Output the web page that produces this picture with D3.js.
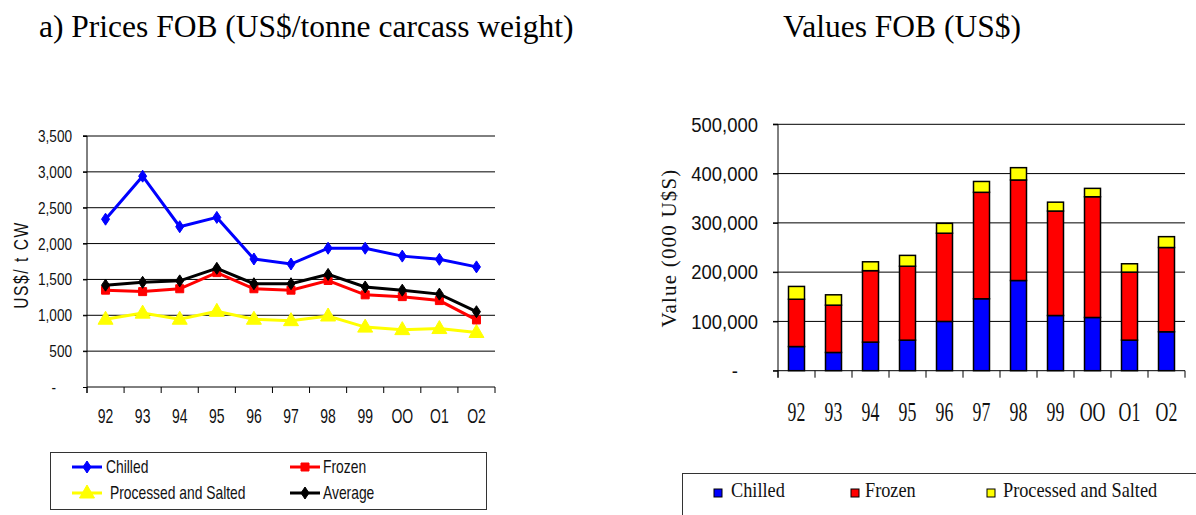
<!DOCTYPE html>
<html>
<head>
<meta charset="utf-8">
<script src="https://cdn.jsdelivr.net/npm/d3@7"></script>
<style>
  body { margin: 0; background: #fff; }
  svg { display: block; }
  .sans { font-family: 'Liberation Sans', Arial, sans-serif; }
  .serif { font-family: 'Liberation Serif', 'Times New Roman', serif; }
</style>
</head>
<body>
<svg id="main" width="1196" height="515"></svg>
<script>
// categories (years as printed on the original, with letter O)
const years = ['92', '93', '94', '95', '96', '97', '98', '99', 'OO', 'O1', 'O2'];

// a) prices FOB, US$/t carcass weight
const chilledPrice   = [2340, 2940, 2235, 2365, 1785, 1715, 1935, 1935, 1825, 1780, 1675];
const frozenPrice    = [1350, 1330, 1370, 1595, 1370, 1350, 1485, 1285, 1260, 1205, 935];
const processedPrice = [945, 1030, 945, 1055, 945, 925, 990, 835, 800, 815, 760];
const averagePrice   = [1420, 1460, 1480, 1655, 1440, 1440, 1570, 1395, 1350, 1295, 1050];
const priceTicks = [0, 500, 1000, 1500, 2000, 2500, 3000, 3500];

// values FOB, 000 US$
const chilledValue   = [49000, 37000, 58000, 62000, 100000, 146000, 183000, 112000, 108000, 62000, 79000];
const frozenValue    = [96000, 96000, 145000, 150000, 179000, 216000, 204000, 212000, 245000, 138000, 171000];
const processedValue = [26000, 21000, 18000, 22000, 20000, 22000, 25000, 18000, 17000, 17000, 22000];
const valueTicks = [0, 100000, 200000, 300000, 400000, 500000];

const svg = d3.select('svg#main');
const fmt = d3.format(',');

// titles
svg.append('text')
  .attr('class', 'serif')
  .attr('x', 39).attr('y', 37)
  .style('font-size', '31.5px')
  .text('a) Prices FOB (US$/tonne carcass weight)');

svg.append('text')
  .attr('class', 'serif')
  .attr('x', 783).attr('y', 37)
  .style('font-size', '31.5px')
  .text('Values FOB (US$)');

// ---------- left: line chart ----------
const L = { x0: 87, x1: 495, yTop: 136, yBot: 387 };

const xL = d3.scaleBand().domain(years).range([L.x0, L.x1]);
const yL = d3.scaleLinear().domain([0, 3500]).range([L.yBot, L.yTop]);

const left = svg.append('g');

// horizontal grid
left.append('g')
  .selectAll('line')
  .data(priceTicks.filter(d => d > 0))
  .join('line')
  .attr('x1', L.x0 - 4).attr('x2', L.x1)
  .attr('y1', d => yL(d)).attr('y2', d => yL(d))
  .attr('stroke', '#000').attr('stroke-width', 1);

// y axis
const yAxisL = left.append('g')
  .attr('transform', `translate(${L.x0},0)`)
  .call(d3.axisLeft(yL).tickValues(priceTicks).tickSize(4).tickFormat(d => d === 0 ? '-' : fmt(d)));
yAxisL.select('.domain').attr('stroke', '#000').attr('d', `M-4,${L.yTop}H0V${L.yBot + 6}`);
yAxisL.selectAll('text')
  .attr('class', 'sans')
  .style('font-size', '17px')
  .attr('fill', '#111')
  .attr('x', d => (d === 0 ? -31 : -15) / 0.8)
  .attr('transform', 'scale(0.8,1)');

// x axis with ticks on band edges
const xAxisL = left.append('g').attr('transform', `translate(0,${L.yBot})`);
xAxisL.append('line')
  .attr('x1', L.x0).attr('x2', L.x1)
  .attr('stroke', '#000');
xAxisL.selectAll('line.tk')
  .data(years.concat(['end']))
  .join('line')
  .attr('class', 'tk')
  .attr('x1', (d, i) => i < years.length ? xL(d) : L.x1)
  .attr('x2', (d, i) => i < years.length ? xL(d) : L.x1)
  .attr('y1', 0).attr('y2', 6)
  .attr('stroke', '#000');
xAxisL.selectAll('text')
  .data(years)
  .join('text')
  .attr('class', 'sans')
  .attr('text-anchor', 'middle')
  .attr('transform', d => `translate(${xL(d) + xL.bandwidth() / 2},36) scale(0.7,1)`)
  .style('font-size', '20px')
  .attr('fill', '#111')
  .text(d => d);

// y axis title
left.append('text')
  .attr('class', 'sans')
  .attr('text-anchor', 'middle')
  .attr('transform', 'translate(28,265) rotate(-90) scale(0.78,1)')
  .style('font-size', '20px')
  .style('letter-spacing', '2px')
  .attr('fill', '#111')
  .text('US$/ t CW');

const lineSeries = [
  { name: 'Chilled', values: chilledPrice, color: '#0000ff', shape: 'diamond' },
  { name: 'Frozen', values: frozenPrice, color: '#ff0000', shape: 'square' },
  { name: 'Processed and Salted', values: processedPrice, color: '#ffff00', shape: 'triangle' },
  { name: 'Average', values: averagePrice, color: '#000000', shape: 'diamond' }
];
// draw order: processed, frozen, average, chilled
const drawOrder = [2, 1, 3, 0];

function markerPath(shape, big) {
  if (shape === 'diamond') return 'M0,-6L4,0L0,6L-4,0Z';
  if (shape === 'square') return 'M-4,-4H4V4H-4Z';
  return big ? 'M0,-8L7.5,5H-7.5Z' : 'M0,-8L7.5,5H-7.5Z';
}

const line = d3.line()
  .x((d, i) => xL(years[i]) + xL.bandwidth() / 2)
  .y(d => yL(d));

drawOrder.forEach(k => {
  const s = lineSeries[k];
  const g = left.append('g');
  g.append('path')
    .attr('d', line(s.values))
    .attr('fill', 'none')
    .attr('stroke', s.color)
    .attr('stroke-width', 3);
  g.selectAll('path.mk')
    .data(s.values)
    .join('path')
    .attr('class', 'mk')
    .attr('transform', (d, i) => `translate(${xL(years[i]) + xL.bandwidth() / 2},${yL(d)})`)
    .attr('d', markerPath(s.shape))
    .attr('fill', s.color)
    .attr('stroke', s.color)
    .attr('stroke-width', 1);
});

// left legend
const legL = svg.append('g');
legL.append('rect')
  .attr('x', 50.5).attr('y', 452.5)
  .attr('width', 436).attr('height', 57)
  .attr('fill', 'none').attr('stroke', '#333').attr('stroke-width', 1);

const legPos = [
  { x: 72, y: 467, tx: 106 },
  { x: 290, y: 467, tx: 323 },
  { x: 72, y: 493, tx: 110 },
  { x: 290, y: 493, tx: 323 }
];
lineSeries.forEach((s, i) => {
  const p = legPos[i];
  legL.append('line')
    .attr('x1', p.x).attr('x2', p.x + 30)
    .attr('y1', p.y).attr('y2', p.y)
    .attr('stroke', s.color).attr('stroke-width', 3);
  legL.append('path')
    .attr('transform', `translate(${p.x + 15},${p.y})`)
    .attr('d', markerPath(s.shape))
    .attr('fill', s.color).attr('stroke', s.color);
  legL.append('text')
    .attr('class', 'sans')
    .attr('transform', `translate(${p.tx},${p.y + 6}) scale(0.77,1)`)
    .style('font-size', '18px')
    .attr('fill', '#111')
    .text(s.name);
});

// ---------- right: stacked bars ----------
const R = { x0: 778, x1: 1185, yTop: 124.3, yBot: 370.7 };

const xR = d3.scaleBand().domain(years).range([R.x0, R.x1]);
const yR = d3.scaleLinear().domain([0, 500000]).range([R.yBot, R.yTop]);

const right = svg.append('g');

right.append('g')
  .selectAll('line')
  .data(valueTicks.filter(d => d > 0))
  .join('line')
  .attr('x1', R.x0 - 5).attr('x2', R.x1)
  .attr('y1', d => yR(d)).attr('y2', d => yR(d))
  .attr('stroke', '#000').attr('stroke-width', 1);

const yAxisR = right.append('g')
  .attr('transform', `translate(${R.x0},0)`)
  .call(d3.axisLeft(yR).tickValues(valueTicks).tickSize(5).tickFormat(d => d === 0 ? '-' : fmt(d)));
yAxisR.select('.domain').attr('stroke', '#000').attr('d', `M-5,${R.yTop}H0V${R.yBot + 7}`);
yAxisR.selectAll('text')
  .attr('class', 'sans')
  .style('font-size', '21px')
  .attr('fill', '#111')
  .attr('x', d => (d === 0 ? -40 : -20) / 0.88)
  .attr('transform', 'scale(0.88,1)');

const xAxisR = right.append('g').attr('transform', `translate(0,${R.yBot})`);
xAxisR.append('line')
  .attr('x1', R.x0 - 5).attr('x2', R.x1)
  .attr('stroke', '#000');
xAxisR.selectAll('line.tk')
  .data(years.concat(['end']))
  .join('line')
  .attr('class', 'tk')
  .attr('x1', (d, i) => i < years.length ? xR(d) : R.x1)
  .attr('x2', (d, i) => i < years.length ? xR(d) : R.x1)
  .attr('y1', 0).attr('y2', 7)
  .attr('stroke', '#000');
xAxisR.selectAll('text')
  .data(years)
  .join('text')
  .attr('class', 'serif')
  .attr('text-anchor', 'middle')
  .attr('transform', d => `translate(${xR(d) + xR.bandwidth() / 2},50) scale(0.66,1)`)
  .style('font-size', '27px')
  .attr('fill', '#111')
  .text(d => d);

right.append('text')
  .attr('class', 'serif')
  .attr('text-anchor', 'middle')
  .attr('transform', 'translate(676,248) rotate(-90)')
  .style('font-size', '21px')
  .style('letter-spacing', '1.2px')
  .attr('fill', '#111')
  .text('Value (000 U$S)');

const barKeys = ['chilled', 'frozen', 'processed'];
const barColors = { chilled: '#0000ff', frozen: '#ff0000', processed: '#ffff00' };
const barRows = years.map((y, i) => ({
  year: y,
  chilled: chilledValue[i],
  frozen: frozenValue[i],
  processed: processedValue[i]
}));
const stacked = d3.stack().keys(barKeys)(barRows);
const barW = 16;

right.append('g')
  .selectAll('g')
  .data(stacked)
  .join('g')
  .attr('fill', d => barColors[d.key])
  .selectAll('rect')
  .data(d => d)
  .join('rect')
  .attr('x', d => xR(d.data.year) + xR.bandwidth() / 2 - barW / 2)
  .attr('y', d => yR(d[1]))
  .attr('width', barW)
  .attr('height', d => yR(d[0]) - yR(d[1]))
  .attr('stroke', '#000')
  .attr('stroke-width', 1.5);

// right legend
const legR = svg.append('g');
legR.append('rect')
  .attr('x', 682.5).attr('y', 473.5)
  .attr('width', 520).attr('height', 60)
  .attr('fill', 'none').attr('stroke', '#333').attr('stroke-width', 1);

const legRItems = [
  { name: 'Chilled', key: 'chilled', x: 714, tx: 731 },
  { name: 'Frozen', key: 'frozen', x: 851, tx: 865 },
  { name: 'Processed and Salted', key: 'processed', x: 987, tx: 1003 }
];
legRItems.forEach(it => {
  legR.append('rect')
    .attr('x', it.x).attr('y', 489)
    .attr('width', 8).attr('height', 8)
    .attr('fill', barColors[it.key])
    .attr('stroke', '#000').attr('stroke-width', 1);
  legR.append('text')
    .attr('class', 'serif')
    .attr('transform', `translate(${it.tx},497) scale(0.87,1)`)
    .style('font-size', '21px')
    .attr('fill', '#111')
    .text(it.name);
});
</script>
</body>
</html>
